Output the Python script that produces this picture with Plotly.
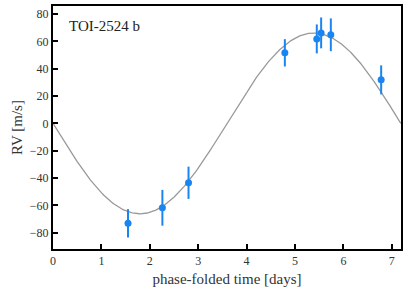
import numpy as np
import plotly.graph_objects as go

# data
phase_days = [1.55, 2.26, 2.80, 4.79, 5.45, 5.54, 5.74, 6.78]
rv_ms = [-73.2, -61.8, -43.5, 51.7, 61.9, 66.3, 64.9, 31.9]
rv_err = [10.4, 13.1, 11.8, 10.0, 10.6, 11.3, 12.0, 10.6]

# circular orbit model parameters
period = 7.186
semi_amp = 66.2

x_ticks = [0, 1, 2, 3, 4, 5, 6, 7]
y_ticks = [-80, -60, -40, -20, 0, 20, 40, 60, 80]

t_model = np.linspace(0, period, 400)
rv_model = -semi_amp * np.sin(2 * np.pi * t_model / period)

fig = go.Figure()
fig.add_trace(go.Scatter(x=t_model, y=rv_model, mode="lines",
                         line=dict(color="#999999", width=1.3), hoverinfo="skip"))
fig.add_trace(go.Scatter(x=phase_days, y=rv_ms, mode="markers",
                         marker=dict(color="#1a85f0", size=7),
                         error_y=dict(type="data", array=rv_err, color="#1a85f0",
                                      thickness=2, width=0)))

font = "Liberation Serif"
axis_common = dict(showline=True, linecolor="black", linewidth=2, mirror=True,
                   ticks="inside", ticklen=5, tickwidth=2, tickcolor="black",
                   showgrid=False, zeroline=False, automargin=False,
                   tickfont=dict(family=font, size=12, color="#333333"))
fig.update_xaxes(range=[0, 7.19], tickvals=x_ticks, **axis_common,
                 title=dict(text="phase-folded time [days]", standoff=6,
                            font=dict(family=font, size=15, color="#333333")))
fig.update_yaxes(range=[-92, 86], tickvals=y_ticks, **axis_common,
                 title=dict(text="RV [m/s]", standoff=4,
                            font=dict(family=font, size=15, color="#333333")))
fig.add_annotation(x=0.04, y=0.96, xref="paper", yref="paper", text="TOI-2524 b",
                   showarrow=False, xanchor="left", yanchor="top",
                   font=dict(family=font, size=15, color="#222222"))
fig.update_layout(width=407, height=293, showlegend=False,
                  font=dict(family=font),
                  margin=dict(l=53, r=6, t=6, b=44),
                  plot_bgcolor="white", paper_bgcolor="white")
fig.write_html("out.html", config={"displayModeBar": False},
               post_script="document.body.style.margin='0';document.body.style.overflow='hidden';")
